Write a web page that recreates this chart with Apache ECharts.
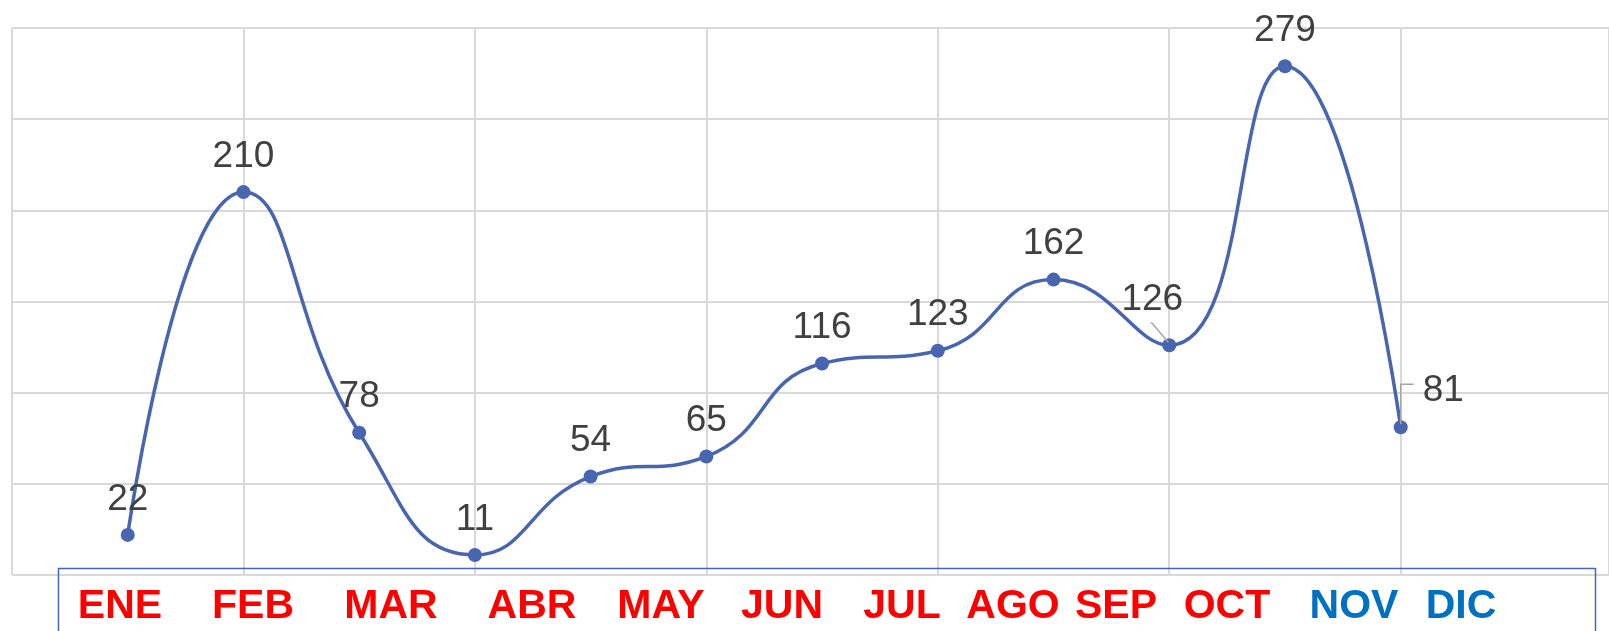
<!DOCTYPE html>
<html><head><meta charset="utf-8">
<script src="https://cdn.jsdelivr.net/npm/echarts@6/dist/echarts.min.js"></script>
<style>html,body{margin:0;padding:0;background:#fff}#c{width:1609px;height:631px}</style>
</head><body><div id="c"></div>
<script>
// ---- data ----
const months = ['ENE','FEB','MAR','ABR','MAY','JUN','JUL','AGO','SEP','OCT','NOV','DIC'];
const values = [22, 210, 78, 11, 54, 65, 116, 123, 162, 126, 279, 81];
const yRange = [0, 300];
const yStep = 50;
const blueMonths = ['NOV', 'DIC'];

// ---- layout (pixels, not data) ----
const monthLabelCenters = [120, 253, 391, 532, 661, 782, 902, 1013, 1116, 1227, 1354, 1461];
const FONT = "'Liberation Sans', Arial, sans-serif";
const LINE_COLOR = '#4866B0';

const chart = echarts.init(document.getElementById('c'), null, {renderer: 'canvas'});

const seriesData = values.map((v, i) => {
  const item = {value: [i + 1, v]};
  if (i === 9) item.label = {position: 'top', offset: [-17, -10]};
  if (i === 11) item.label = {position: 'right', distance: 15, offset: [0, -37]};
  return item;
});

const option = {
  backgroundColor: '#fff',
  animation: false,
  grid: {left: 12, right: 0, top: 28, bottom: 56, containLabel: false},
  xAxis: {
    type: 'value', min: 0, max: 13.8, interval: 2,
    axisLine: {show: false}, axisTick: {show: false}, axisLabel: {show: false},
    splitLine: {show: true, lineStyle: {color: '#d9d9d9', width: 2}}
  },
  yAxis: {
    type: 'value', min: yRange[0], max: yRange[1], interval: yStep,
    axisLine: {show: false}, axisTick: {show: false}, axisLabel: {show: false},
    splitLine: {show: true, lineStyle: {color: '#d9d9d9', width: 2}}
  },
  series: [{
    type: 'line',
    data: seriesData,
    smooth: 0.5,
    symbol: 'circle',
    symbolSize: 14,
    lineStyle: {color: LINE_COLOR, width: 3.5},
    itemStyle: {color: LINE_COLOR},
    label: {
      show: true, position: 'top', distance: 10,
      fontFamily: FONT, fontSize: 37, color: '#404040',
      formatter: p => p.value[1]
    }
  }],
  graphic: []
};
chart.setOption(option);

// month labels in a bordered box
const g = [{
  type: 'rect', left: 56, top: 566, z: 100, silent: true,
  shape: {x: 0, y: 0, width: 1537, height: 100},
  style: {fill: 'none', stroke: LINE_COLOR, lineWidth: 1.5}
}];
months.forEach((m, i) => {
  g.push({
    type: 'text', x: monthLabelCenters[i], y: 607, z: 101, silent: true,
    style: {
      text: m, fontFamily: FONT, fontWeight: 'bold', fontSize: 41,
      fill: blueMonths.includes(m) ? '#0070C0' : '#FF0000',
      align: 'center', verticalAlign: 'middle'
    }
  });
});

// leader lines for the offset labels, anchored on the plotted points
const p9 = chart.convertToPixel({seriesIndex: 0}, [10, values[9]]);
const p11 = chart.convertToPixel({seriesIndex: 0}, [12, values[11]]);
g.push({
  type: 'polyline', z: 50, silent: true,
  shape: {points: [[p9[0] - 18, p9[1] - 23], [p9[0] - 1, p9[1] - 3]]},
  style: {stroke: '#a6a6a6', lineWidth: 1.5, fill: 'none'}
});
g.push({
  type: 'polyline', z: 50, silent: true,
  shape: {points: [[p11[0], p11[1] - 3], [p11[0], p11[1] - 43], [p11[0] + 13, p11[1] - 43]]},
  style: {stroke: '#a6a6a6', lineWidth: 1.5, fill: 'none'}
});
chart.setOption({graphic: g});
</script>
</body></html>
